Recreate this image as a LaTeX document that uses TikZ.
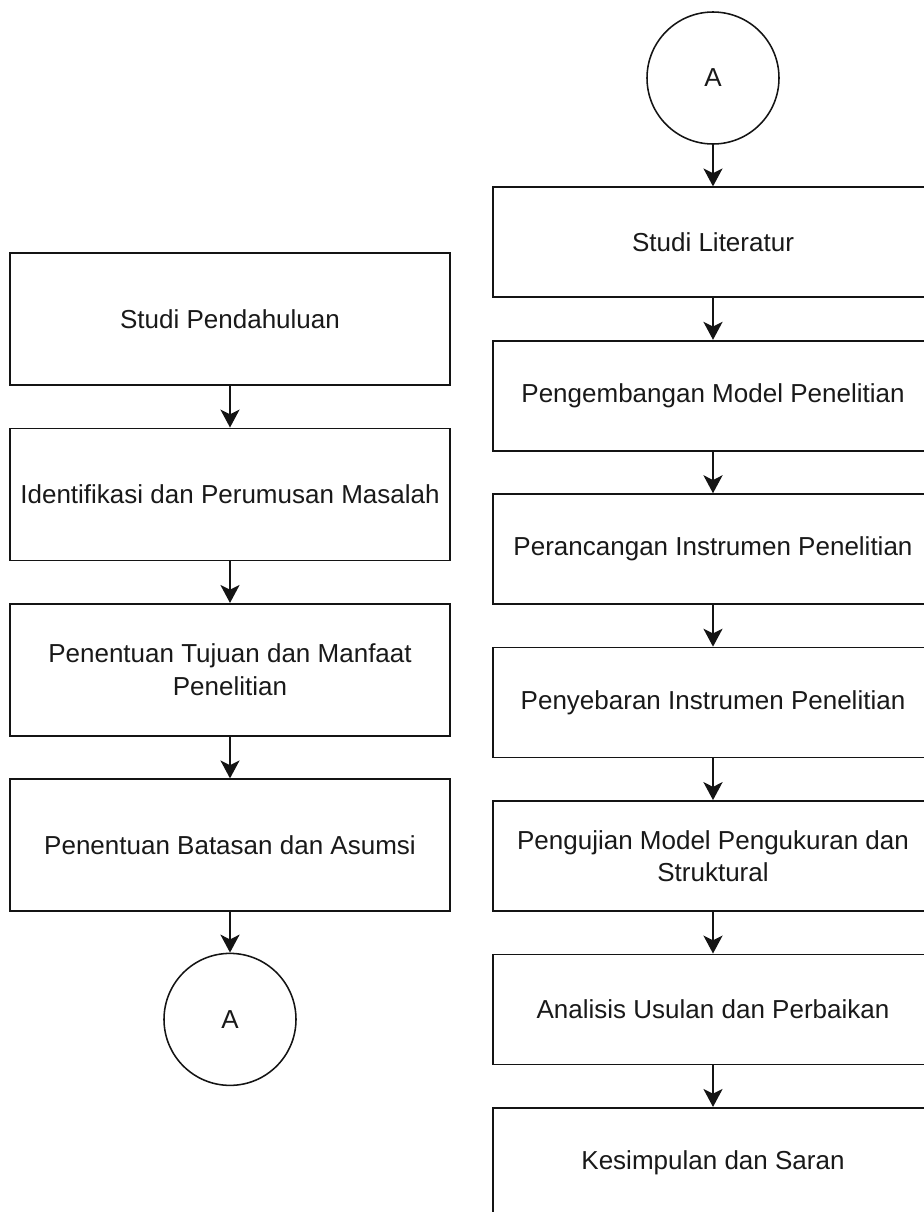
\documentclass[tikz,border=0pt]{standalone}
\usepackage{fontspec}
\setmainfont{Liberation Sans}
\usepackage{xcolor}
\usepackage{tikz}
\usetikzlibrary{shapes.geometric, arrows.meta, positioning}
\definecolor{LineBlack}{RGB}{20, 20, 20}
\definecolor{TextBlack}{RGB}{25, 25, 25}
\tikzset{
  tahap/.style={rectangle, minimum width=11cm, minimum height=3.3cm,
    inner sep=2pt, align=center, draw=LineBlack, line width=1.3pt,
    fill=white, font=\fontsize{18.5}{23}\selectfont, text=TextBlack},
  tahapk/.style={tahap, minimum height=2.75cm},
  konektor/.style={circle, minimum size=3.3cm, inner sep=0pt,
    draw=LineBlack, line width=1.1pt, fill=white,
    font=\fontsize{18.5}{23}\selectfont, text=TextBlack},
  panah/.style={-{Stealth[length=0.45cm, width=0.48cm, inset=0.12cm]},
    line width=1.1pt, color=LineBlack},
}
\begin{document}
\begin{tikzpicture}[node distance=1.04cm]
  \useasboundingbox (0,0) rectangle (23.1,-30.3);
  \clip (0,0) rectangle (23.1,-30.3);
  % kolom kiri
  \node[tahap] (p1) at (5.75,-7.975) {Studi Pendahuluan};
  \node[tahap, below=of p1] (p2) {Identifikasi dan Perumusan Masalah};
  \node[tahap, below=of p2] (p3)
    {Penentuan Tujuan dan Manfaat\\Penelitian};
  \node[tahap, below=of p3] (p4) {Penentuan Batasan dan Asumsi};
  \node[konektor, below=1.01cm of p4] (ak) {A};
  % kolom kanan
  \node[konektor] (aa) at (17.825,-1.95) {A};
  \node[tahapk, below=1.04cm of aa] (q1) {Studi Literatur};
  \node[tahapk, below=of q1] (q2) {Pengembangan Model Penelitian};
  \node[tahapk, below=of q2] (q3) {Perancangan Instrumen Penelitian};
  \node[tahapk, below=of q3] (q4) {Penyebaran Instrumen Penelitian};
  \node[tahapk, below=of q4] (q5)
    {Pengujian Model Pengukuran dan\\Struktural};
  \node[tahapk, below=of q5] (q6) {Analisis Usulan dan Perbaikan};
  \node[tahapk, below=of q6] (q7) {Kesimpulan dan Saran};
  \draw[panah] (p1)--(p2); \draw[panah] (p2)--(p3);
  \draw[panah] (p3)--(p4); \draw[panah] (p4)--(ak);
  \draw[panah] (aa)--(q1); \draw[panah] (q1)--(q2);
  \draw[panah] (q2)--(q3); \draw[panah] (q3)--(q4);
  \draw[panah] (q4)--(q5); \draw[panah] (q5)--(q6);
  \draw[panah] (q6)--(q7);
\end{tikzpicture}
\end{document}
